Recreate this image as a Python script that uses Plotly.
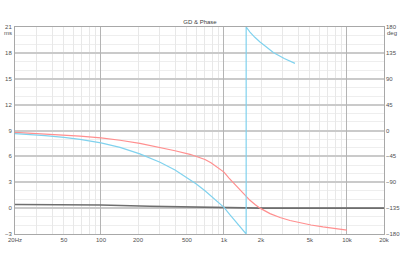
import numpy as np
import plotly.graph_objects as go

# ---- data ----
red_freq = [20, 31.9, 50, 67.5, 100, 142.8, 207, 302, 400, 529, 635, 701, 784, 894, 1000,
            1099, 1207, 1350, 1483, 1627, 1788, 1963, 2368, 2855, 3442, 4151, 5098, 6383, 7990, 10000]
red_phase = [-3.1, -5.3, -7.7, -9.7, -13.0, -16.9, -22.5, -29.4, -35.2, -41.4, -46.5, -50.4, -56.1, -64.8, -72.4,
             -82.8, -92.2, -103.6, -112.9, -121.4, -128.8, -135.0, -144.5, -151.3, -156.5, -160.5, -164.3, -167.7, -170.8, -173.3]

blue_freq = [20, 26.5, 35.1, 50, 67.5, 100, 142.8, 207, 302, 400, 498, 592, 701, 830, 1000,
             1120, 1252, 1376, 1497, 1515, 1515, 1627, 1783, 1963, 2240, 2518, 3090, 3777]
blue_phase = [-5.6, -7.05, -8.9, -11.9, -15.3, -21.5, -29.4, -40.7, -55.3, -68.7, -81.2, -92.5, -104.7, -118.3, -133.6,
              -146.9, -159.2, -170.1, -178.2, -180, 180, 171.2, 162.1, 153.8, 144.3, 135.8, 125.1, 116.7]

gd_freq = [20, 50, 100, 250, 635, 1000, 1963, 4151, 20000]
gd_ms = [0.42, 0.40, 0.36, 0.21, 0.10, 0.06, 0.0, 0.0, 0.0]

x_label_vals = [20, 50, 100, 200, 500, 1000, 2000, 5000, 10000, 20000]
x_label_text = ["20Hz", "50", "100", "200", "500", "1k", "2k", "5k", "10k", "20k"]
x_decades = [100, 1000, 10000]
ms_ticks = list(range(-3, 22, 3))
deg_ticks = list(range(-180, 181, 45))

# grid positions for the log axis (1..9 per decade)
grid_vals = []
for d in [10, 100, 1000, 10000]:
    for m in range(1, 10):
        v = d * m
        if 20 <= v <= 20000:
            grid_vals.append(v)
grid_text = [x_label_text[x_label_vals.index(v)] if v in x_label_vals else "" for v in grid_vals]

font = dict(family="Liberation Sans, Arial, sans-serif", size=6, color="#505050")

fig = go.Figure()
fig.add_trace(go.Scatter(x=gd_freq, y=gd_ms, mode="lines", xaxis="x", yaxis="y",
                         line=dict(color="#6e6e6e", width=1.6), hoverinfo="skip"))
fig.add_trace(go.Scatter(x=red_freq, y=red_phase, mode="lines", xaxis="x2", yaxis="y2",
                         line=dict(color="#ff8f8f", width=1.2)))
fig.add_trace(go.Scatter(x=blue_freq, y=blue_phase, mode="lines", xaxis="x2", yaxis="y2",
                         line=dict(color="#80d2ee", width=1.2)))

lx0, lx1 = np.log10(20), np.log10(20000)
fig.update_layout(
    width=400, height=258,
    margin=dict(l=15, r=16, t=27, b=24, autoexpand=False),
    paper_bgcolor="white", plot_bgcolor="white",
    showlegend=False,
    font=font,
    title=dict(text="GD & Phase", x=0.5, xanchor="center", y=1 - 22 / 258, yanchor="middle",
               font=dict(family=font["family"], size=6, color="#404040")),
    xaxis=dict(type="log", range=[lx0, lx1], tickvals=grid_vals, ticktext=grid_text,
               showgrid=True, gridcolor="#e8e8e8", gridwidth=1, ticks="",
               showline=True, linecolor="#a8a8a8", linewidth=1, mirror=True,
               tickfont=font, zeroline=False, automargin=False),
    xaxis2=dict(type="log", range=[lx0, lx1], overlaying="x", anchor="y2", tickvals=x_decades,
                showticklabels=False, showgrid=True, gridcolor="#b4b4b4", gridwidth=1,
                ticks="", showline=False, zeroline=False, automargin=False),
    yaxis=dict(range=[-3, 21], tickvals=ms_ticks, showgrid=True, gridcolor="#cacaca", gridwidth=1.5,
               minor=dict(dtick=1, showgrid=True, gridcolor="#eeeeee", gridwidth=1),
               ticks="", showline=True, linecolor="#a8a8a8", linewidth=1, mirror=True,
               zeroline=False, tickfont=font, ticklabelstandoff=1, automargin=False),
    yaxis2=dict(range=[-180, 180], tickvals=deg_ticks, overlaying="y", side="right", anchor="x2",
                showgrid=False, zeroline=False, ticks="", showline=False, tickfont=font,
                ticklabelstandoff=1, automargin=False),
    annotations=[
        dict(text="ms", xref="paper", yref="paper", x=0, y=1, xanchor="right", yanchor="top",
             xshift=-1, yshift=-1, showarrow=False, font=font),
        dict(text="deg", xref="paper", yref="paper", x=1, y=1, xanchor="left", yanchor="top",
             xshift=1, yshift=-1, showarrow=False, font=font),
    ],
)

fig.write_html("out.html")
